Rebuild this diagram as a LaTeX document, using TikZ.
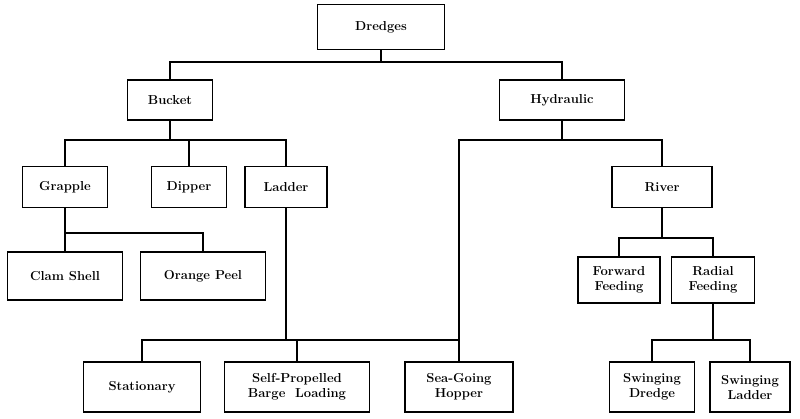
\documentclass[tikz,border=0pt]{standalone}
\begin{document}
\begin{tikzpicture}[x=1pt,y=-1pt,
  bx/.style={draw,line width=1.6pt,minimum height=#1,inner sep=2pt,align=center,font=\bfseries\fontsize{13}{15}\selectfont},
  bx/.default=40pt,
  ln/.style={line width=1.5pt}]
\useasboundingbox (0,0) rectangle (800,418);
\node[bx=45pt,minimum width=127pt] (dr) at (381,27) {Dredges};
\node[bx,minimum width=85pt] (bu) at (170,100) {Bucket};
\node[bx,minimum width=125pt] (hy) at (562,100) {Hydraulic};
\node[bx=41pt,minimum width=85pt] (gr) at (65,187) {Grapple};
\node[bx=41pt,minimum width=75pt] (di) at (189,187) {Dipper};
\node[bx=41pt,minimum width=82pt] (la) at (286,187) {Ladder};
\node[bx=41pt,minimum width=100pt] (ri) at (662,187) {River};
\node[bx=48pt,minimum width=115pt] (cs) at (65,276) {Clam Shell};
\node[bx=48pt,minimum width=125pt] (op) at (203,276) {Orange Peel};
\node[bx=46pt,minimum width=82pt] (ff) at (619,280) {Forward\\Feeding};
\node[bx=46pt,minimum width=83pt] (rf) at (713,280) {Radial\\Feeding};
\node[bx=50pt,minimum width=117pt] (st) at (142,387) {Stationary};
\node[bx=50pt,minimum width=145pt] (sp) at (297,387) {Self-Propelled\\Barge\ \ Loading};
\node[bx=50pt,minimum width=108pt] (sg) at (459,387) {Sea-Going\\Hopper};
\node[bx=50pt,minimum width=85pt] (sd) at (652,387) {Swinging\\Dredge};
\node[bx=50pt,minimum width=80pt] (sl) at (750,387) {Swinging\\Ladder};
\draw[ln] (dr.south) -- (381,62);
\draw[ln] (bu.north) |- (381,62) -| (hy.north);
\draw[ln] (bu.south) -- (170,140);
\draw[ln] (gr.north) |- (170,140) -| (la.north);
\draw[ln] (di.north) -- (189,140);
\draw[ln] (hy.south) -- (562,140);
\draw[ln] (sg.north) |- (562,140) -| (ri.north);
\draw[ln] (gr.south) -- (65,233);
\draw[ln] (cs.north) |- (65,233) -| (op.north);
\draw[ln] (la.south) -- (286,340);
\draw[ln] (st.north) |- (286,340) -| (sg.north);
\draw[ln] (sp.north) -- (sp.north|-0,340);
\draw[ln] (ri.south) -- (662,238);
\draw[ln] (ff.north) |- (662,238) -| (rf.north);
\draw[ln] (rf.south) -- (713,340);
\draw[ln] (sd.north) |- (713,340) -| (sl.north);
\end{tikzpicture}
\end{document}
